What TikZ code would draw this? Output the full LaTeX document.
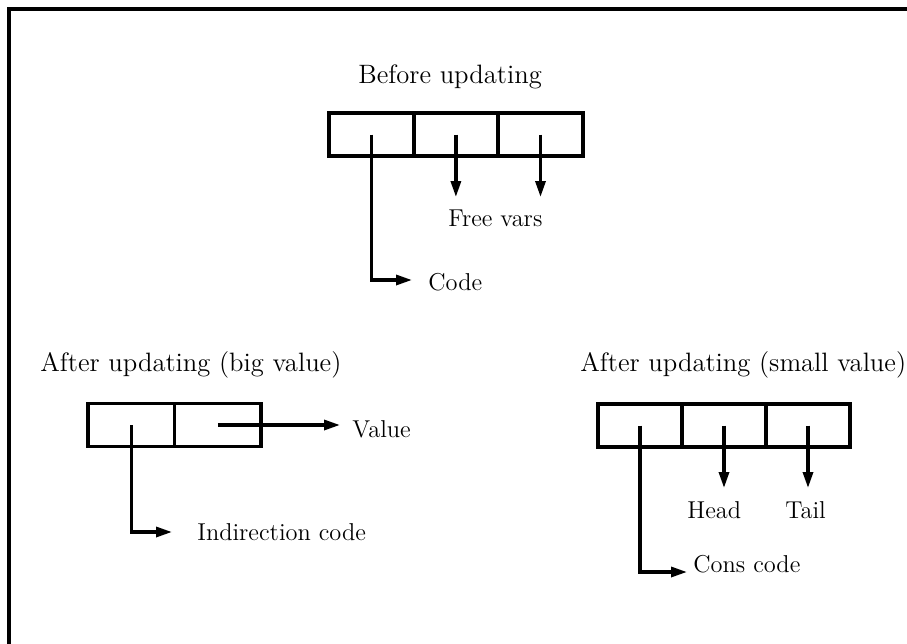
\documentclass[tikz,border=0pt]{standalone}
\usepackage{amsmath}
\usepackage{tikz}
\usetikzlibrary{positioning, arrows.meta}
\tikzset{
	cell/.append style={
		draw,
		line width=1.9pt,
		minimum width=42.3pt,
		minimum height=21.5pt,
		inner sep=0pt,
		outer sep=0pt,
	},
	labe/.append style={
		anchor=base west,
		inner sep=0pt,
		font={\fontsize{12.2}{14}\selectfont}
	},
	titl/.append style={
		labe,
		font={\fontsize{13.3}{15}\selectfont}
	},
	ptr/.append style={
		line width=1.6pt,
		-{Triangle[length=8pt,width=5pt]}
	}
}

\begin{document}
\begin{tikzpicture}[
	x=0.5pt, y=-0.5pt,
	frame/.style = {line width=2pt}
	]
	\clip (0,0) rectangle (907,644);
	\draw[frame] (8.5,8.5) rectangle (930,670);

	% Closure before updating
	\node[titl] (before) at (358,83) {Before updating};
	\node[cell] (t1) at (371.3,134.5) {};
	\node[cell, right=0pt of t1] (t2) {};
	\node[cell, right=0pt of t2] (t3) {};
	\node[labe] (fv) at (448,226) {Free vars};
	\node[labe] (code) at (428,290) {Code};
	\coordinate (fvtip) at (494,197);
	\coordinate (codetip) at (412,280);

	\draw[ptr] (t1.center) |- (codetip);
	\draw[ptr] (t2.center) -- (t2.center |- fvtip);
	\draw[ptr] (t3.center) -- (t3.center |- fvtip);

	% Overwritten with an indirection
	\node[titl] (big) at (40,371) {After updating (big value)};
	\node[cell, minimum width=43.25pt] (l1) at (131.3,425) {};
	\node[cell, minimum width=43.25pt, right=0pt of l1] (l2) {};
	\node[labe] (val) at (352,437) {Value};
	\node[labe] (ind) at (197,540) {Indirection code};
	\coordinate (valtip) at (340,425);
	\coordinate (indtip) at (172,532);

	\draw[ptr] (l1.center) |- (indtip);
	\draw[ptr] (l2.center) -- (valtip);

	% Overwritten with a cons cell
	\node[titl] (small) at (580,371) {After updating (small value)};
	\node[cell, minimum width=42pt] (r1) at (640,425.5) {};
	\node[cell, minimum width=42pt, right=0pt of r1] (r2) {};
	\node[cell, minimum width=42pt, right=0pt of r2] (r3) {};
	\node[labe] (hd) at (687,518) {Head};
	\node[labe] (tl) at (785,518) {Tail};
	\node[labe] (cons) at (693,572) {Cons code};
	\coordinate (httip) at (767,488);
	\coordinate (constip) at (687,572);

	\draw[ptr] (r1.center) |- (constip);
	\draw[ptr] (r2.center) -- (r2.center |- httip);
	\draw[ptr] (r3.center) -- (r3.center |- httip);
\end{tikzpicture}
\end{document}
